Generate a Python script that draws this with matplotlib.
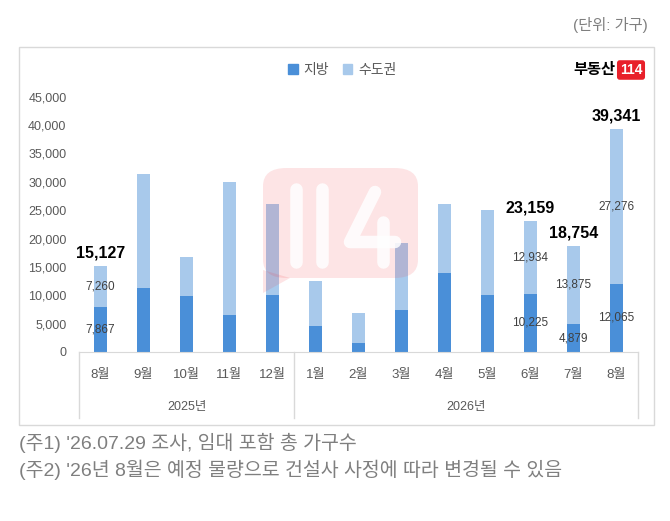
import matplotlib.pyplot as plt
from matplotlib.patches import FancyBboxPatch, Rectangle, Polygon, Patch
from matplotlib.lines import Line2D

plt.rcParams['font.family'] = ['Liberation Sans', 'Noto Sans CJK KR', 'DejaVu Sans']

months = ['8월', '9월', '10월', '11월', '12월', '1월', '2월', '3월', '4월', '5월', '6월', '7월', '8월']
years = ['2025년', '2026년']
year_groups = [(0, 4), (5, 12)]
local = [7867, 11240, 9830, 6530, 10000, 4530, 1590, 7480, 13940, 10000, 10225, 4879, 12065]
capital = [7260, 20060, 6830, 23370, 16060, 8000, 5240, 11700, 12120, 15000, 12934, 13875, 27276]
labeled = [0, 10, 11, 12]

c_local = '#4A8FD8'
c_cap = '#A8C9EB'
W, H = 670, 521


def px(x, y):
    return x / W, 1 - y / H


fig = plt.figure(figsize=(6.7, 5.21), dpi=100)
ax = fig.add_axes([79 / W, 169 / H, 559 / W, 255.3 / H])

x = list(range(len(months)))
total = [a + b for a, b in zip(local, capital)]
ax.bar(x, local, width=0.31, color=c_local, zorder=2)
ax.bar(x, capital, bottom=local, width=0.31, color=c_cap, zorder=2)

for i in labeled:
    ax.text(i, local[i] / 2, '{:,}'.format(local[i]), ha='center', va='center',
            fontsize=8.5, color='#404040', zorder=3)
    ax.text(i, local[i] + capital[i] / 2, '{:,}'.format(capital[i]), ha='center',
            va='center', fontsize=8.5, color='#404040', zorder=3)
    ax.annotate('{:,}'.format(total[i]), (i, total[i]), xytext=(0, 4),
                textcoords='offset points', ha='center', va='bottom',
                fontsize=11.5, fontweight='bold', color='black')

ax.set_xlim(-0.5, 12.5)
ax.set_ylim(0, 45000)
ax.set_yticks(range(0, 45001, 5000))
ax.set_yticklabels(['{:,}'.format(v) for v in range(0, 45001, 5000)])
ax.tick_params(axis='y', length=0, pad=9, labelsize=9, labelcolor='#595959')
ax.set_xticks([])
for s in ['left', 'right', 'top']:
    ax.spines[s].set_visible(False)
ax.spines['bottom'].set_color('#D9D9D9')

tr = ax.get_xaxis_transform()
for i, m in enumerate(months):
    ax.text(i, -0.09, m, transform=tr, ha='center', va='center',
            fontsize=9.5, color='#595959')
for (a, b), yr in zip(year_groups, years):
    ax.text((a + b) / 2, -0.216, yr, transform=tr, ha='center', va='center',
            fontsize=9, color='#595959')
for xs in [-0.5, 4.5, 12.5]:
    ax.add_line(Line2D([xs, xs], [0, -0.259], transform=tr, color='#D9D9D9',
                       lw=1, clip_on=False))

# chart frame
x0, y0 = px(19, 425)
x1, y1 = px(654, 47)
fig.patches.append(Rectangle((x0, y0), x1 - x0, y1 - y0, transform=fig.transFigure,
                             fill=False, edgecolor='#D9D9D9', lw=1, zorder=0))

# legend
handles = [Patch(color=c_local, label='지방'), Patch(color=c_cap, label='수도권')]
fig.legend(handles=handles, loc='center', bbox_to_anchor=px(342, 70), ncol=2,
           frameon=False, fontsize=10, handlelength=0.7, handleheight=0.7,
           handletextpad=0.4, columnspacing=1.0, labelcolor='#595959')

# logo
fig.text(*px(615, 70), '부동산', ha='right', va='center', fontsize=11,
         fontweight='bold', color='black')
fig.text(*px(631, 70), '114', ha='center', va='center', fontsize=10,
         fontweight='bold', color='white',
         bbox=dict(boxstyle='round,pad=0.2,rounding_size=0.2', fc='#E8202A', ec='none'))

# watermark
wx0, wy0 = px(263, 278)
wx1, wy1 = px(418, 168)
fig.patches.append(FancyBboxPatch((wx0, wy0), wx1 - wx0, wy1 - wy0,
                                  boxstyle='round,pad=0,rounding_size=0.035',
                                  transform=fig.transFigure, fc='#F2303A',
                                  ec='none', alpha=0.13, zorder=5))
fig.patches.append(Polygon([px(263, 270), px(263, 293), px(290, 278)], closed=True,
                           transform=fig.transFigure, fc='#F2303A', ec='none',
                           alpha=0.13, zorder=5))
for seg in [[(296, 189), (296, 262)], [(322, 189), (322, 262)],
            [(375, 192), (350, 242), (395, 242)], [(383, 222), (383, 262)]]:
    xs_, ys_ = zip(*[px(a, b) for a, b in seg])
    fig.lines.append(Line2D(xs_, ys_, transform=fig.transFigure, color='white',
                            lw=9, solid_capstyle='round', solid_joinstyle='round',
                            alpha=0.85, zorder=6))

# unit and notes
fig.text(*px(648, 25), '(단위: 가구)', ha='right', va='center', fontsize=11,
         color='#7F7F7F')
fig.text(*px(19, 443), "(주1) '26.07.29 조사, 임대 포함 총 가구수", ha='left',
         va='center', fontsize=14, color='#7F7F7F')
fig.text(*px(19, 470), "(주2) '26년 8월은 예정 물량으로 건설사 사정에 따라 변경될 수 있음",
         ha='left', va='center', fontsize=14, color='#7F7F7F')

fig.savefig('out.png', dpi=100, facecolor='white')
